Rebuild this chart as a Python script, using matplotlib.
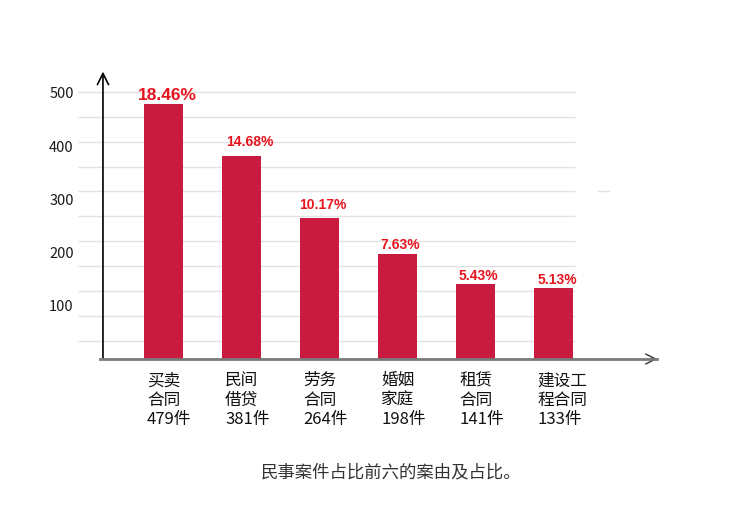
import numpy as np
import matplotlib.pyplot as plt

plt.rcParams['font.family'] = ['Noto Sans CJK SC', 'DejaVu Sans']

# data
categories = ['买卖\n合同', '民间\n借贷', '劳务\n合同', '婚姻\n家庭', '租赁\n合同', '建设工\n程合同']
counts = [479, 381, 264, 198, 141, 133]
shares = ['18.46%', '14.68%', '10.17%', '7.63%', '5.43%', '5.13%']
y_ticks = [100, 200, 300, 400, 500]
caption = '民事案件占比前六的案由及占比。'

bar_color = '#c81b3f'
pct_color = '#e8141e'

fig = plt.figure(figsize=(7.3, 5.08), dpi=100)
ax = fig.add_axes([78 / 730, 149 / 508, 582 / 730, 289 / 508])
x = np.arange(len(counts))
ax.set_xlim(-1.096, 6.365)
ax.set_ylim(0, 543)

# faint horizontal lines behind the bars
for g in np.linspace(34, 502, 11):
    right = 5.45 if abs(g - 316) < 1 else 5.276
    ax.hlines(g, -1.096, right, color='#e2e2e2', lw=1, zorder=0)
ax.hlines(316, 5.56, 5.73, color='#e2e2e2', lw=1, zorder=0)

ax.bar(x, counts, width=0.5, color=bar_color, zorder=2)

# percent labels (offsets in points, as placed in the original)
dx = [3, 6, 2.5, 2, 2, 2.5]
dy = [1, 5, 5, 1, 1, 1]
for i, (c, s) in enumerate(zip(counts, shares)):
    ax.annotate(s, (x[i], c), xytext=(dx[i], dy[i]), textcoords='offset points',
                ha='center', va='bottom', color=pct_color, fontweight='bold',
                fontsize=12.5 if i == 0 else 10,
                family=['Liberation Sans', 'DejaVu Sans'], zorder=3)

# category labels under the bars
for i, cat in enumerate(categories):
    ax.text(x[i] - 0.21, -25, f'{cat}\n{counts[i]}件', ha='left', va='top',
            fontsize=12, linespacing=1.18, color='#111111')

# axes drawn by hand with open arrow heads
for s in ax.spines.values():
    s.set_visible(False)
ax.set_xticks([])
ax.set_yticks(y_ticks)
ax.set_yticklabels([str(t) for t in y_ticks], fontsize=10.5, color='#1a1a1a')
ax.tick_params(axis='y', length=0, pad=3)

ax.plot([-0.81, 6.33], [0, 0], color='#7a7a7a', lw=2, zorder=4, clip_on=False)
ax.annotate('', xy=(6.365, 0), xytext=(6.2, 0),
            arrowprops=dict(arrowstyle='->', color='#333333', lw=1,
                            mutation_scale=18), annotation_clip=False)
ax.annotate('', xy=(-0.776, 540), xytext=(-0.776, 0),
            arrowprops=dict(arrowstyle='->', color='black', lw=1.2,
                            mutation_scale=20, shrinkA=0, shrinkB=0),
            annotation_clip=False)

fig.text(391 / 730, 1 - 472 / 508, caption, ha='center', va='center',
         fontsize=12.5, color='#333333')

fig.savefig('out.png', dpi=100, facecolor='white')
